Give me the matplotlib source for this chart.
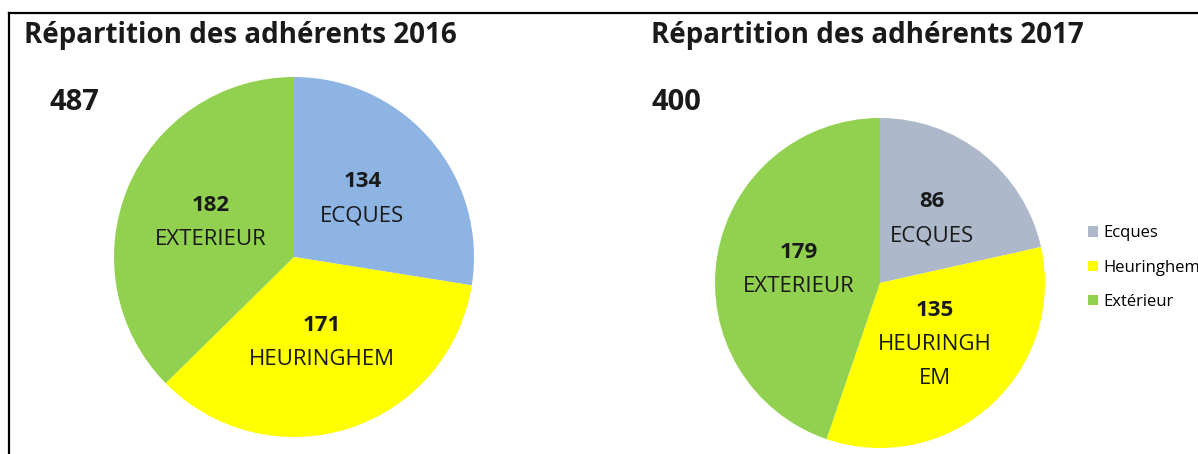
#!/usr/bin/env python3
# -*- coding: utf-8 -*-

import numpy as np
import matplotlib
matplotlib.use("Agg")
import matplotlib.pyplot as plt
from matplotlib.lines import Line2D
from matplotlib.patches import Patch

plt.rcParams['font.family'] = ['Open Sans', 'DejaVu Sans']

# -------------------------------------------------
# données
# -------------------------------------------------

categories = ["Ecques", "Heuringhem", "Extérieur"]
labels_2016 = ["ECQUES", "HEURINGHEM", "EXTERIEUR"]
labels_2017 = ["ECQUES", "HEURINGH\nEM", "EXTERIEUR"]
values_2016 = [134, 171, 182]
values_2017 = [86, 135, 179]
total_2016 = 487
total_2017 = 400

colors_2016 = ["#8EB4E3", "#FFFF00", "#92D050"]
colors_2017 = ["#ADB9CA", "#FFFF00", "#92D050"]

W, H = 1198, 454


def px_axes(fig, x0, y0, x1, y1):
    # rectangle en pixels (origine en haut à gauche)
    return fig.add_axes([x0 / W, 1 - y1 / H, (x1 - x0) / W, (y1 - y0) / H])


def draw_pie(ax, values, colors, names, r_lab=0.5, fs=16):
    wedges, _ = ax.pie(values, colors=colors, startangle=90, counterclock=False,
                       radius=1, wedgeprops=dict(linewidth=0))
    ax.set_xlim(-1, 1)
    ax.set_ylim(-1, 1)
    ax.set_aspect("equal")
    ax.axis("off")
    step = 24.5  # points entre deux lignes
    for w, v, name in zip(wedges, values, names):
        ang = np.deg2rad((w.theta1 + w.theta2) / 2)
        x, y = r_lab * np.cos(ang), r_lab * np.sin(ang)
        lines = name.split("\n")
        n = len(lines) + 1
        rows = [str(v)] + lines
        for k, txt in enumerate(rows):
            dy = step * ((n - 1) / 2 - k)
            ax.annotate(txt, (x, y), xytext=(0, dy), textcoords="offset points",
                        ha="center", va="center", fontsize=fs,
                        fontweight="bold" if k == 0 else "normal",
                        color="#1a1a1a")


fig = plt.figure(figsize=(W / 100, H / 100), dpi=100)

# cadre
fig.add_artist(Line2D([9 / W, 1], [1 - 13 / H, 1 - 13 / H], color="black", lw=1.6))
fig.add_artist(Line2D([9 / W, 9 / W], [1 - 13 / H, 0], color="black", lw=1.6))

ax1 = px_axes(fig, 114, 77, 474, 437)
draw_pie(ax1, values_2016, colors_2016, labels_2016)

ax2 = px_axes(fig, 715, 118, 1045, 448)
draw_pie(ax2, values_2017, colors_2017, labels_2017)

fig.text(24 / W, 1 - 35 / H, "Répartition des adhérents 2016", fontsize=20,
         fontweight="bold", va="center", ha="left", color="#1a1a1a")
fig.text(651 / W, 1 - 35 / H, "Répartition des adhérents 2017", fontsize=20,
         fontweight="bold", va="center", ha="left", color="#1a1a1a")
fig.text(49 / W, 1 - 103 / H, str(total_2016), fontsize=21,
         fontweight="bold", va="center", ha="left", color="#1a1a1a")
fig.text(651 / W, 1 - 103 / H, str(total_2017), fontsize=21,
         fontweight="bold", va="center", ha="left", color="#1a1a1a")

handles = [Patch(facecolor=c, edgecolor="none") for c in colors_2017]
fig.legend(handles, categories, loc="upper left",
           bbox_to_anchor=(1080 / W, 1 - 217 / H), frameon=False,
           fontsize=12, handlelength=0.6, handleheight=0.6,
           handletextpad=0.3, labelspacing=1.1, borderpad=0)

fig.savefig("out.png", dpi=100)
